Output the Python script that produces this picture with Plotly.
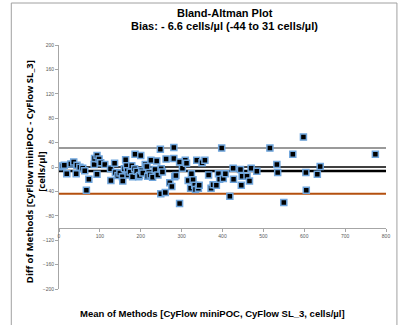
import plotly.graph_objects as go

# Mean of methods (x) and difference of methods (y), cells/µl
mean_vals = [0, 9, 13, 19, 29, 36, 42, 44, 51, 58, 63, 67, 73, 86, 87, 93, 93, 98, 102, 112,
             126, 127, 136, 138, 144, 149, 155, 156, 160, 163, 165, 167, 169, 174, 178, 180,
             185, 186, 190, 195, 197, 200, 202, 205, 211, 215, 217, 223, 225, 229, 235, 239,
             242, 248, 249, 250, 253, 260, 262, 271, 276, 281, 281, 283, 286, 295, 295, 302,
             309, 312, 316, 322, 324, 328, 332, 334, 337, 341, 343, 350, 357, 366, 372, 377,
             385, 390, 393, 398, 402, 407, 418, 426, 427, 444, 446, 448, 460, 466, 470, 484,
             516, 533, 535, 550, 572, 598, 604, 605, 632, 639, 774]
diff_vals = [0.5, 1.6, 3, -11, 5, 8, -11, 3, -0.5, -2, -6, -38, -20, 4, 14, 19, -12, 13, 7, 4,
             -3, -22, 6, -9, -14, -10, -16, -23, -3, 12, 2, -6, -13, -8, 2, -16,
             -3, 21, -7, -16, -14, 19, -6, -10, 4, 1, -15, -13, 11, -17, -4, 10,
             -13, 29, -44, -3, -8, -42, 13, -26, -32, 32, 14, -16, -14, 8, -60, -2,
             11, 6, -22, -35, -11, -21, -30, -37, 11, -35, -30, 7, 11, -13, -35, -29,
             -30, -11, -20, 31, -19, -11, -48, -2, -20, -4, -30, -15, -15, -23, -2, -7,
             31, 4, -9, -58, 21, 49, -9, -38, -12, 1, 21]

bias = -6.6
upper_loa = 31
lower_loa = -44
zero_line = 0
x_range = [0, 800]
y_range = [-200, 200]
x_ticks = [0, 100, 200, 300, 400, 500, 600, 700, 800]
y_ticks = [200, 160, 120, 80, 40, 0, -40, -80, -120, -160, -200]

fig = go.Figure()

def hline(v, color, width):
    fig.add_trace(go.Scatter(x=x_range, y=[v, v], mode="lines",
                             line=dict(color=color, width=width),
                             hoverinfo="skip", showlegend=False))

hline(upper_loa, "#9a9a9a", 2)
hline(zero_line, "#404040", 2)
hline(bias, "#000000", 2.5)
hline(lower_loa, "#b4500f", 2)

fig.add_trace(go.Scatter(x=mean_vals, y=diff_vals, mode="markers",
                         marker=dict(symbol="square", size=6, color="#000000",
                                     line=dict(color="#6fa5dc", width=1.5)),
                         showlegend=False))

L, R, T, B = 59, 14, 45, 36
W, H = 402, 325
pw, ph = W - L - R, H - T - B

def xp(px):
    return (px - L) / pw

def yp(py):
    return (H - B - py) / ph

fig.update_layout(
    width=W, height=H,
    margin=dict(l=L, r=R, t=T, b=B),
    paper_bgcolor="white", plot_bgcolor="white",
    font=dict(family="Liberation Sans, Arial, sans-serif", color="#000000"),
    xaxis=dict(range=x_range, tickvals=x_ticks, anchor="free", position=0.25,
               showgrid=False, zeroline=False, showline=True, linecolor="#a6a6a6",
               linewidth=1, ticks="outside", ticklen=3, tickcolor="#a6a6a6",
               tickfont=dict(size=5, color="#595959")),
    yaxis=dict(range=y_range, tickvals=y_ticks, showgrid=False, zeroline=False,
               showline=True, linecolor="#a6a6a6", linewidth=1, ticks="outside",
               ticklen=3, tickcolor="#a6a6a6", tickfont=dict(size=5, color="#595959")),
    shapes=[dict(type="rect", xref="paper", yref="paper",
                 x0=xp(11), x1=xp(399), y0=yp(330), y1=yp(3),
                 line=dict(color="#a0a0a0", width=1), fillcolor="rgba(0,0,0,0)", layer="below")],
    annotations=[
        dict(text="<b>Bland-Altman Plot</b>", xref="paper", yref="paper",
             x=xp(226), y=yp(13), showarrow=False, font=dict(size=11),
             xanchor="center", yanchor="middle"),
        dict(text="<b>Bias: - 6.6 cells/µl (-44 to 31 cells/µl)</b>", xref="paper", yref="paper",
             x=xp(226), y=yp(26), showarrow=False, font=dict(size=11),
             xanchor="center", yanchor="middle"),
        dict(text="<b>Mean of Methods [CyFlow miniPOC, CyFlow SL_3, cells/µl]</b>",
             xref="paper", yref="paper", x=xp(213), y=yp(313), showarrow=False,
             font=dict(size=9.5), xanchor="center", yanchor="middle"),
        dict(text="<b>Diff of Methods [CyFlow miniPOC - CyFlow SL_3]<br>[cells/µl]</b>",
             xref="paper", yref="paper", x=xp(35), y=yp(172), showarrow=False,
             textangle=-90, font=dict(size=9.5, family="Open Sans, sans-serif"),
             xanchor="center", yanchor="middle"),
    ],
)

fig.write_html("out.html", config={"displayModeBar": False},
               post_script="document.body.style.margin='0';document.body.style.overflow='hidden';")
